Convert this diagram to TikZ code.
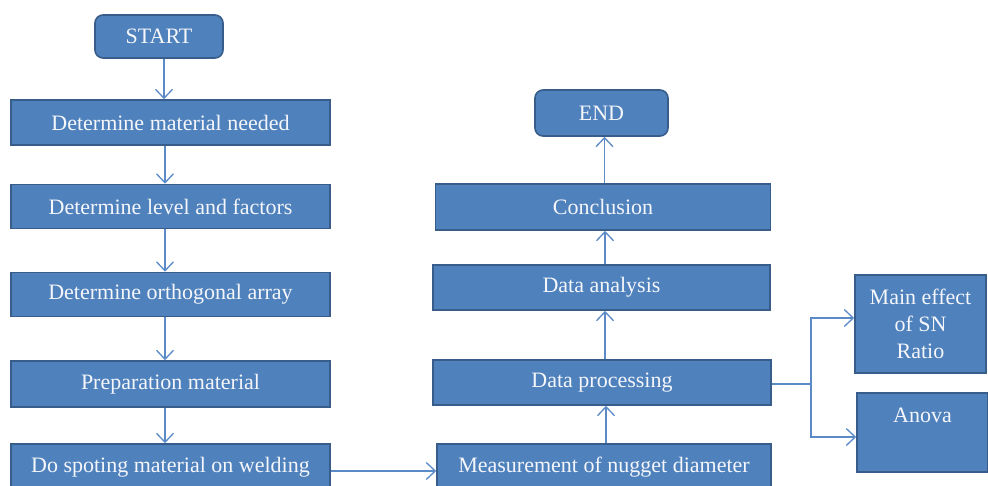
\documentclass[tikz,border=0pt]{standalone}
\usepackage{fontspec}
\setmainfont{Liberation Serif}
\usetikzlibrary{arrows.meta}
\definecolor{boxfill}{HTML}{4F81BD}
\definecolor{boxline}{HTML}{385D8A}
\definecolor{arrcol}{HTML}{5B8BC7}
\definecolor{txtcol}{HTML}{F4F6FA}
\tikzset{
  box/.style={draw=boxline, line width=1.6pt, fill=boxfill, text=txtcol,
    font=\fontsize{22}{27}\selectfont, inner sep=2pt, align=center},
  term/.style={box, rounded corners=8pt},
  arr/.style={draw=arrcol, line width=1.3pt, -{Straight Barb[length=9pt,width=17pt]}},
  ln/.style={draw=arrcol, line width=1.3pt}
}
\begin{document}
\begin{tikzpicture}[x=1pt,y=-1pt]
\useasboundingbox (0,0) rectangle (988,486);
% left column
\node[term, minimum width=128, minimum height=43] (start) at (159,36.5) {START};
\node[box, minimum width=319, minimum height=45] (b1) at (170.5,122.5) {Determine material needed};
\node[box, minimum width=319, minimum height=44] (b2) at (170.5,206.5) {Determine level and factors};
\node[box, minimum width=319, minimum height=44] (b3) at (170.5,294.5) {Determine orthogonal array};
\node[box, minimum width=319, minimum height=46] (b4) at (170.5,384) {Preparation material};
\node[box, minimum width=319, minimum height=46] (b5) at (170.5,467) {Do spoting material on welding};
% right column
\node[term, minimum width=133, minimum height=46] (end) at (601.5,113) {END};
\node[box, minimum width=335, minimum height=46] (c1) at (603,207) {Conclusion};
\node[box, minimum width=337, minimum height=45] (c2) at (601.5,287.5) {Data analysis};
\node[box, minimum width=338, minimum height=45] (c3) at (602,382.5) {Data processing};
\node[box, minimum width=334, minimum height=46] (c4) at (604,467) {Measurement of nugget diameter};
% side boxes
\node[box, minimum width=131, minimum height=98] (me) at (920.5,324) {Main effect\\of SN\\Ratio};
\node[box, minimum width=131, minimum height=79] (an) at (922.5,432.5) {Anova\\\strut};
% connectors left
\draw[arr] ([xshift=5pt]start.south) -- ([xshift=5pt]start.south |- b1.north);
\draw[arr] ([xshift=-5.5pt]b1.south) -- ([xshift=-5.5pt]b1.south |- b2.north);
\draw[arr] ([xshift=-5.5pt]b2.south) -- ([xshift=-5.5pt]b2.south |- b3.north);
\draw[arr] ([xshift=-5.5pt]b3.south) -- ([xshift=-5.5pt]b3.south |- b4.north);
\draw[arr] ([xshift=-5.5pt]b4.south) -- ([xshift=-5.5pt]b4.south |- b5.north);
\draw[arr] (b5.east |- 0,471) -- (c4.west |- 0,471);
% connectors right
\draw[arr] ([xshift=2pt]c4.north) -- ([xshift=2pt]c4.north |- c3.south);
\draw[arr] ([xshift=3pt]c3.north) -- ([xshift=3pt]c3.north |- c2.south);
\draw[arr] ([xshift=3.5pt]c2.north) -- ([xshift=3.5pt]c2.north |- c1.south);
\draw[arr] ([xshift=1.5pt]c1.north) -- ([xshift=1.5pt]c1.north |- end.south);
% branch
\coordinate (br) at (811,384);
\draw[ln] (c3.east |- br) -- (br);
\draw[arr] (br) |- (me.west |- 0,318);
\draw[arr] (br) |- (an.west |- 0,437);
\end{tikzpicture}
\end{document}
